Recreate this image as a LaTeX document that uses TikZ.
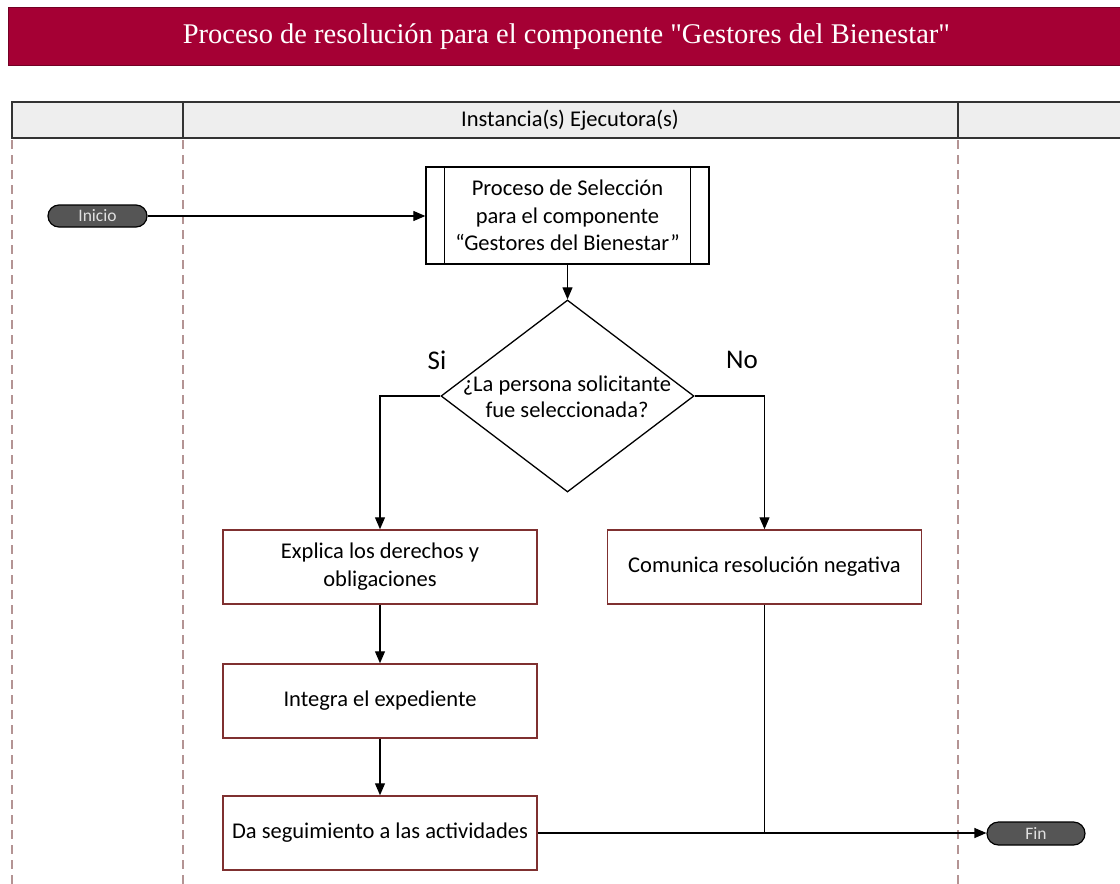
\documentclass[tikz,border=0pt]{standalone}
\usepackage{fontspec}
\setmainfont{Carlito}
\newfontfamily\titlefont{Liberation Serif}
\usetikzlibrary{shapes.geometric,shapes.misc,arrows.meta}
\definecolor{crimson}{HTML}{A50034}
\definecolor{boxred}{HTML}{7F3030}
\definecolor{lanedash}{HTML}{B49494}
\definecolor{pill}{HTML}{555555}
\definecolor{hdr}{HTML}{EEEEEE}
\tikzset{
  pillnode/.style={rounded rectangle, draw=black, line width=1.2pt, fill=pill,
    text=black!12, font=\fontsize{17.5}{19}\selectfont, inner sep=0pt},
  procbox/.style={draw=boxred, line width=1.5pt, fill=white, minimum width=314pt,
    minimum height=74pt, align=center, inner sep=0pt, font=\fontsize{22.5}{28}\selectfont},
  subbox/.style={draw=black, line width=1.3pt, fill=white, minimum width=283pt,
    minimum height=97pt, align=center, inner sep=0pt, font=\fontsize{22.5}{27.5}\selectfont},
  decbox/.style={diamond, draw=black, line width=1.3pt, minimum width=253pt,
    minimum height=192pt, inner sep=0pt},
  conn/.style={line width=1.2pt, draw=black},
  arr/.style={conn, -{Triangle[length=12pt,width=10pt]}},
  lane/.style={draw=lanedash, line width=1.3pt, dash pattern=on 9pt off 6pt},
  lbl/.style={font=\fontsize{27}{29}\selectfont},
}
\begin{document}
\begin{tikzpicture}[x=1pt,y=-1pt]
\useasboundingbox (0,0) rectangle (1120,884);
% title
\node[fill=crimson, draw=crimson!70!black, line width=0.8pt, minimum width=1116pt,
  minimum height=58pt, inner sep=0pt, anchor=north west, text=white,
  font=\titlefont\fontsize{28.5}{30}\selectfont] (title) at (8,7)
  {Proceso de resolución para el componente "Gestores del Bienestar"};
% lane header
\draw[fill=hdr, draw=black!80, line width=1.5pt] (12,102) rectangle (1124,138);
\draw[black!80, line width=1.5pt] (183,102) -- (183,138);
\draw[black!80, line width=1.5pt] (958,102) -- (958,138);
\node[font=\fontsize{22.5}{24}\selectfont] (lanehdr) at (570,120) {Instancia(s) Ejecutora(s)};
% lane separators
\draw[lane] (12,140) -- (12,884);
\draw[lane] (183,140) -- (183,884);
\draw[lane] (958,140) -- (958,884);
% nodes
\node[pillnode, minimum width=99pt, minimum height=22pt] (inicio) at (97.5,216) {Inicio};
\node[subbox] (proc) at (567.5,215.5) {Proceso de Selección\\para el componente\\“Gestores del Bienestar”};
\draw[line width=1.3pt] ([xshift=19pt]proc.north west) -- ([xshift=19pt]proc.south west);
\draw[line width=1.3pt] ([xshift=-19pt]proc.north east) -- ([xshift=-19pt]proc.south east);
\node[decbox] (dec) at (567.5,396) {};
\node[align=center, font=\fontsize{22.5}{26}\selectfont] (dectext) at (567,397)
  {¿La persona solicitante\\fue seleccionada?};
\node[lbl] (si) at (437,360) {Si};
\node[lbl] (no) at (742,360) {No};
\node[procbox] (explica) at (380,567) {Explica los derechos y\\obligaciones};
\node[procbox] (comunica) at (764.5,567) {Comunica resolución negativa};
\node[procbox] (integra) at (380,701) {Integra el expediente};
\node[procbox] (da) at (380,833) {Da seguimiento a las actividades};
\node[pillnode, minimum width=98pt, minimum height=23pt] (fin) at (1036,833.5) {Fin};
% connectors
\draw[arr] (inicio.east) -- (inicio.east -| proc.west);
\draw[arr] (proc.south) -- (dec.north);
\draw[arr] (dec.west) -| (explica.north);
\draw[arr] (dec.east) -| (comunica.north);
\draw[arr] (explica.south) -- (integra.north);
\draw[arr] (integra.south) -- (da.north);
\draw[arr] (da.east) -- (da.east -| fin.west);
\coordinate (join) at (comunica.south |- da.east);
\draw[conn] (comunica.south) -- (join);
\end{tikzpicture}
\end{document}
